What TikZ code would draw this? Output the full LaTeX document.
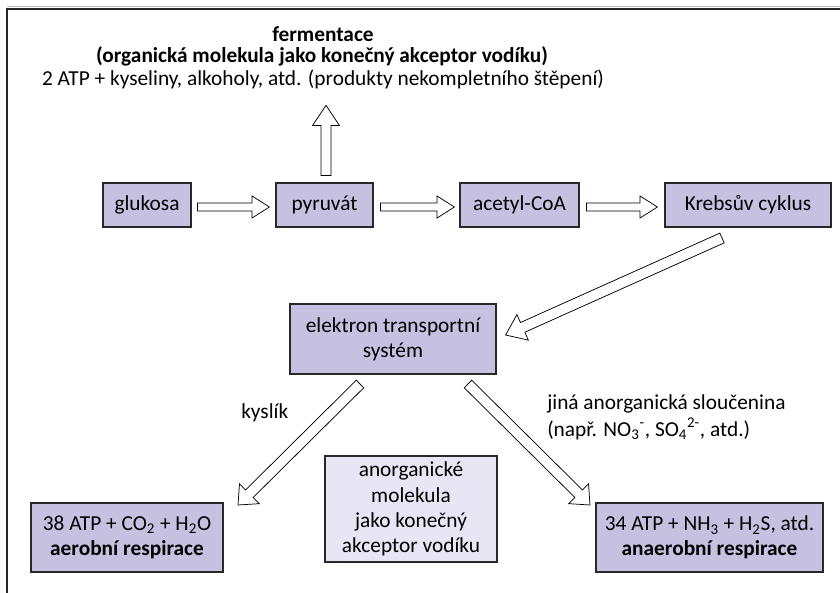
\documentclass[tikz,border=0pt]{standalone}
\usepackage{fontspec}
\setmainfont{Carlito}
\usetikzlibrary{calc}
\definecolor{boxfill}{RGB}{198,193,225}
\definecolor{lightfill}{RGB}{232,230,245}
\definecolor{edge}{RGB}{40,40,40}
\tikzset{
  box/.style={draw=edge, line width=0.9pt, fill=boxfill, inner sep=0pt, align=center,
    font=\fontsize{16}{19}\selectfont},
  blockar/.style={draw=black, line width=0.55pt, fill=white, line join=miter},
  lbl/.style={font=\fontsize{16}{18}\selectfont, inner sep=0pt},
  ttl/.style={font=\fontsize{16}{18}\selectfont\bfseries, inner sep=0pt},
}
\newcommand\blockarrow[5]{%
  \coordinate (ba-n) at ($(#2)!#5!(#1)$);
  \draw[blockar] ($(#1)!#3!90:(#2)$) -- ($(ba-n)!#3!90:(#2)$) -- ($(ba-n)!#4!90:(#2)$) -- (#2)
    -- ($(ba-n)!#4!-90:(#2)$) -- ($(ba-n)!#3!-90:(#2)$) -- ($(#1)!#3!-90:(#2)$) -- cycle;}
\begin{document}
\begin{tikzpicture}[x=0.75pt, y=-0.75pt]
\useasboundingbox (0,0) rectangle (840,593);
% frame
\draw[gray!55, line width=0.6pt] (7,6.5) -- (840,6.5);
\draw[black!85, line width=0.9pt] (7,593) -- (7,9) -- (840,9);
% title
\node[ttl] (ferm) at (323,34) {fermentace};
\node[ttl] (org) at (322,56.5) {(organická molekula jako konečný akceptor vodíku)};
\node[lbl] (prod) at (323,79) {2 ATP + kyseliny, alkoholy, atd. (produkty nekompletního štěpení)};
% top row
\node[box, minimum width=66pt, minimum height=33pt] (glu) at (147,205) {glukosa};
\node[box, minimum width=72.75pt, minimum height=33pt] (pyr) at (324.5,205) {pyruvát};
\node[box, minimum width=89.25pt, minimum height=33pt] (acc) at (519.5,205) {acetyl-CoA};
\node[box, minimum width=124.5pt, minimum height=33pt] (kreb) at (748,205) {Krebsův cyklus};
% middle
\node[box, minimum width=154.5pt, minimum height=52.5pt] (ets) at (393,339) {elektron transportní\\systém};
\node[box, fill=lightfill, minimum width=129pt, minimum height=79.5pt] (inorg) at (411,509)
  {anorganické\\molekula\\jako konečný\\akceptor vodíku};
% bottom
\node[box, minimum width=144pt, minimum height=51.75pt] (aer) at (127,537.5)
  {38 ATP + CO\textsubscript{2} + H\textsubscript{2}O\\\textbf{aerobní respirace}};
\node[box, minimum width=170.25pt, minimum height=51.75pt] (anaer) at (709.5,537.5)
  {34 ATP + NH\textsubscript{3} + H\textsubscript{2}S, atd.\\\textbf{anaerobní respirace}};
% labels
\node[lbl, anchor=west] (kys) at (241,413) {kyslík};
\node[lbl, anchor=west] (jina) at (547,404) {jiná anorganická sloučenina};
\node[lbl, anchor=west] (napr) at (547,429) {(např. NO\textsubscript{3}\textsuperscript{-}, SO\textsubscript{4}\textsuperscript{2-}, atd.)};
% arrow end coordinates
\coordinate (a1t) at ($(glu.east)+(6,2)$);
\coordinate (a1h) at ($(pyr.west)+(-6,2)$);
\coordinate (a2t) at ($(pyr.east)+(7,2)$);
\coordinate (a2h) at ($(acc.west)+(-5,2)$);
\coordinate (a3t) at ($(acc.east)+(7,2)$);
\coordinate (a3h) at ($(kreb.west)+(-7,2)$);
\coordinate (upt) at ($(pyr.north)+(1.5,-7)$);
\coordinate (uph) at ($(pyr.north)+(1.5,-77)$);
\coordinate (kt) at (722,238);
\coordinate (kh) at ($(ets.east)+(9,-4)$);
\coordinate (lt) at (360,384);
\coordinate (lh) at (238,505);
\coordinate (rt) at (468,384);
\coordinate (rh) at (590,505);
% block arrows
\blockarrow{a1t}{a1h}{3pt}{8.25pt}{13pt}
\blockarrow{a2t}{a2h}{3pt}{8.25pt}{13pt}
\blockarrow{a3t}{a3h}{3pt}{8.25pt}{13pt}
\blockarrow{upt}{uph}{3.75pt}{10pt}{15pt}
\blockarrow{kt}{kh}{4pt}{10.5pt}{14pt}
\blockarrow{lt}{lh}{4pt}{10.5pt}{12pt}
\blockarrow{rt}{rh}{4pt}{10.5pt}{12pt}
\end{tikzpicture}
\end{document}
